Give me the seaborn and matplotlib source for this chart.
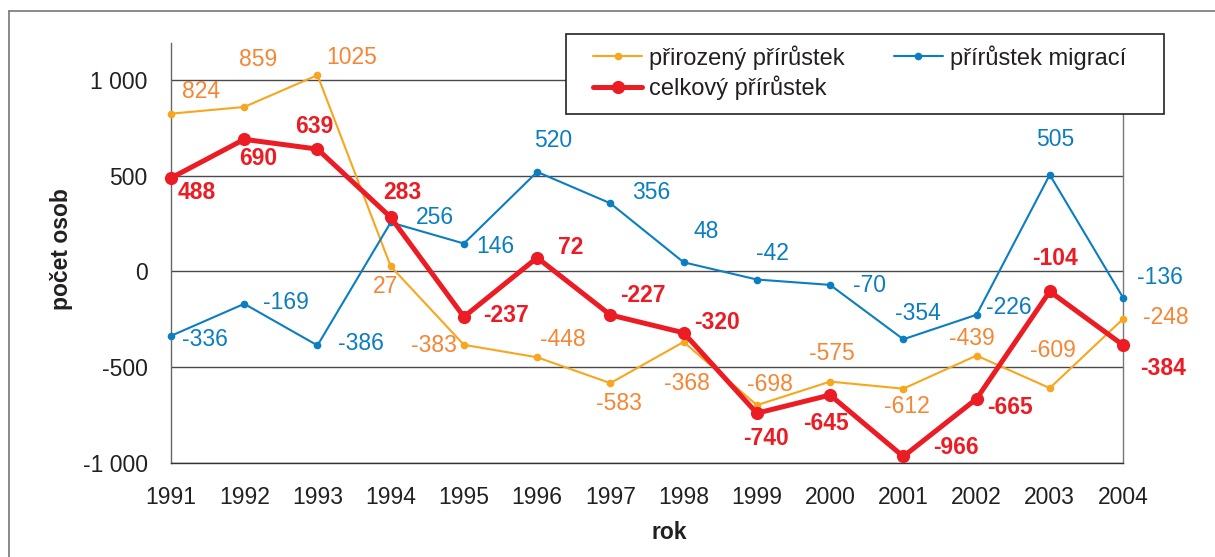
import pandas as pd
import matplotlib
matplotlib.use("Agg")
import matplotlib.pyplot as plt
import seaborn as sns
from matplotlib.lines import Line2D
from matplotlib.patches import Rectangle

# data
years = [1991, 1992, 1993, 1994, 1995, 1996, 1997, 1998, 1999, 2000, 2001, 2002, 2003, 2004]
natural = [824, 859, 1025, 27, -383, -448, -583, -368, -698, -575, -612, -439, -609, -248]
migration = [-336, -169, -386, 256, 146, 520, 356, 48, -42, -70, -354, -226, 505, -136]
total = [488, 690, 639, 283, -237, 72, -227, -320, -740, -645, -966, -665, -104, -384]

series_names = ["přirozený přírůstek", "přírůstek migrací", "celkový přírůstek"]
ytick_vals = [-1000, -500, 0, 500, 1000]
ytick_labels = ["-1 000", "-500", "0", "500", "1 000"]

# label offsets in pixels (dx, dy) from each point
off_nat = [(30, 22), (14, 47), (34, 18), (-5, -20), (-30, -1), (26, 18), (9, -20), (3, -42),
           (13, 21), (2, 28), (4, -18), (-5, 17), (3, 38), (43, 1)]
off_mig = [(34, -4), (42, 1), (43, 2), (44, 5), (31, -3), (16, 31), (41, 11), (23, 31),
           (16, 26), (39, -1), (15, 26), (32, 7), (5, 35), (37, 20)]
off_tot = [(26, -14), (14, -19), (-3, 23), (12, 25), (42, 1), (34, 10), (32, 19), (33, 10),
           (9, -25), (-4, -28), (53, 9), (33, -9), (5, 33), (40, -23)]

c_nat = "#F8A61E"
c_nat_txt = "#F58634"
c_mig = "#0B7DC1"
c_tot = "#EC1C24"
c_txt = "#231F20"

sns.set_style("white")
plt.rcParams["font.family"] = ["Liberation Sans", "DejaVu Sans"]
fs = 16.5

W, H = 1215, 557
fig = plt.figure(figsize=(W / 100, H / 100), dpi=100)
# plot area: x 171..1123, y 43..463 (pixels)
ax = fig.add_axes([171 / W, 1 - 463 / H, 952 / W, 420 / H])

df = pd.DataFrame({"rok": years, "nat": natural, "mig": migration, "tot": total})

ax.set_yticks(ytick_vals)
for v in ytick_vals:
    ax.axhline(v, color="#4a4a4a", lw=1.0, zorder=1)

sns.lineplot(data=df, x="rok", y="nat", ax=ax, color=c_nat, lw=1.5, marker="o",
             markersize=5.5, markeredgewidth=0, label=series_names[0], clip_on=False, zorder=3)
sns.lineplot(data=df, x="rok", y="mig", ax=ax, color=c_mig, lw=1.5, marker="o",
             markersize=5.5, markeredgewidth=0, label=series_names[1], clip_on=False, zorder=3)
sns.lineplot(data=df, x="rok", y="tot", ax=ax, color=c_tot, lw=3.6, marker="o",
             markersize=9.5, markeredgewidth=0, label=series_names[2], clip_on=False, zorder=4)

for vals, offs, col, wt in [(natural, off_nat, c_nat_txt, "normal"),
                            (migration, off_mig, c_mig, "normal"),
                            (total, off_tot, c_tot, "bold")]:
    for x, y, (dx, dy) in zip(years, vals, offs):
        ax.annotate(str(y), (x, y), xytext=(dx, dy), textcoords="offset pixels",
                    ha="center", va="center", color=col, fontsize=fs, fontweight=wt,
                    zorder=5, annotation_clip=False)

ax.set_xlim(1991, 2004)
ax.set_ylim(-1000, 1193)
ax.set_xticks(years)
ax.set_xticklabels([str(y) for y in years])
ax.set_yticklabels(ytick_labels)
ax.tick_params(axis="both", colors="#444444", labelcolor=c_txt, labelsize=fs,
               direction="out", width=1, length=5.8, pad=11)

ax.spines["left"].set_color("#666666")
ax.spines["bottom"].set_color("#333333")
ax.spines["right"].set_color("#777777")
for s in ["left", "bottom", "right"]:
    ax.spines[s].set_linewidth(1)
ax.spines["top"].set_visible(False)

ax.set_xlabel("rok", fontsize=fs, fontweight="bold", color=c_txt)
ax.set_ylabel("počet osob", fontsize=fs, fontweight="bold", color=c_txt)
ax.xaxis.set_label_coords(0.523, -0.138)
ax.yaxis.set_label_coords(-0.103, 0.51)

# legend: white box with frame, entries placed inside it
fig.add_artist(Rectangle((566 / W, 1 - 114 / H), 598 / W, 80 / H, transform=fig.transFigure,
                         facecolor="white", edgecolor="#222222", lw=1.2, zorder=4))
h, l = ax.get_legend_handles_labels()
ax.get_legend().remove()
order = [0, 2, 1]
leg = fig.legend([h[i] for i in order], [l[i] for i in order], ncol=2,
                 loc="upper left", bbox_to_anchor=(593 / W, 1 - 45 / H),
                 fontsize=17, frameon=False, borderaxespad=0, borderpad=0,
                 handlelength=2.08, handletextpad=0.28, labelspacing=0.27, columnspacing=2.1)
leg.set_zorder(6)
for t in leg.get_texts():
    t.set_color(c_txt)

# outer frame
fig.add_artist(Line2D([9 / W, 9 / W], [0, 1 - 11 / H], color="#777777", lw=1.2))
fig.add_artist(Line2D([9 / W, 1], [1 - 11 / H, 1 - 11 / H], color="#777777", lw=1.2))

fig.savefig("out.png", dpi=100)
